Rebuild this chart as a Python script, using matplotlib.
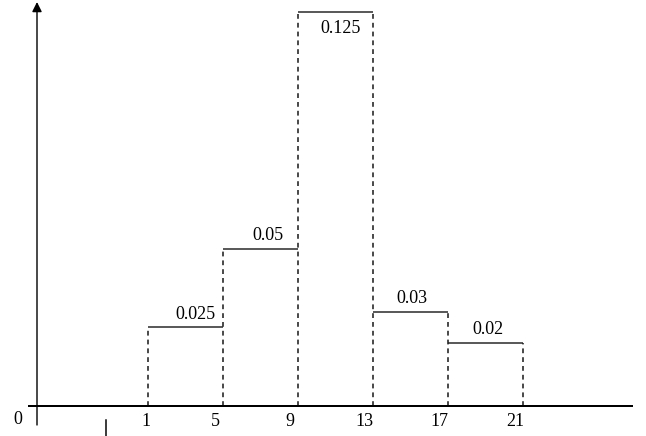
import matplotlib.pyplot as plt

# class boundaries and density heights of the histogram
edges = [1, 5, 9, 13, 17, 21]
heights = [0.025, 0.05, 0.125, 0.03, 0.02]
value_labels = ['0.025', '0.05', '0.125', '0.03', '0.02']
tick_labels = ['1', '5', '9', '13', '17', '21']

# small horizontal nudges of the value labels (pixels)
label_dx = [10, 7, 5, 1, 2]
tick_dx = [-2, -8, -8, -9, -9, -8]

plt.rcParams['font.family'] = ['Liberation Serif', 'DejaVu Serif']

fig = plt.figure(figsize=(646 / 72, 436 / 72), dpi=72)
ax = fig.add_axes([0, 0, 1, 1])
ax.set_axis_off()
ax.set_xlim(1 - 148 / 18.75, 1 + 498 / 18.75)
ax.set_ylim(-30 / 3150, 406 / 3150)

dash = (0, (3, 2.5))
# bar tops (solid) and dashed sides
for i, h in enumerate(heights):
    ax.hlines(h, edges[i], edges[i + 1], color='#333333', lw=1.6)
for i, e in enumerate(edges):
    left = heights[i - 1] if i > 0 else 0
    right = heights[i] if i < len(heights) else 0
    ax.vlines(e, 0, max(left, right), color='#222222', lw=1.6, linestyles=dash)

# value labels
for i, (h, lab) in enumerate(zip(heights, value_labels)):
    xc = (edges[i] + edges[i + 1]) / 2
    dy = -16 if h == max(heights) else 13
    ax.annotate(lab, (xc, h), xytext=(label_dx[i], dy), textcoords='offset points',
                ha='center', va='center', fontsize=18)

# axes lines
y_axis_x = 1 + (37 - 148) / 18.75
ax.plot([1 + (28 - 148) / 18.75, 1 + (633 - 148) / 18.75], [0, 0],
        color='black', lw=2, solid_capstyle='butt')
ax.annotate('', xy=(y_axis_x, 404 / 3150), xytext=(y_axis_x, -19 / 3150),
            arrowprops=dict(arrowstyle='-|>', color='black', lw=1.4,
                            mutation_scale=20, shrinkA=0, shrinkB=0))
ax.plot([1 + (106 - 148) / 18.75] * 2, [-14 / 3150, -30 / 3150], color='black', lw=1.5)

# x tick labels
ax.text(1 + (18 - 148) / 18.75, -13 / 3150, '0', ha='center', va='center', fontsize=18)
for e, lab, dx in zip(edges, tick_labels, tick_dx):
    ax.annotate(lab, (e, 0), xytext=(dx, -15), textcoords='offset points',
                ha='center', va='center', fontsize=18)

fig.savefig('out.png', dpi=72)
